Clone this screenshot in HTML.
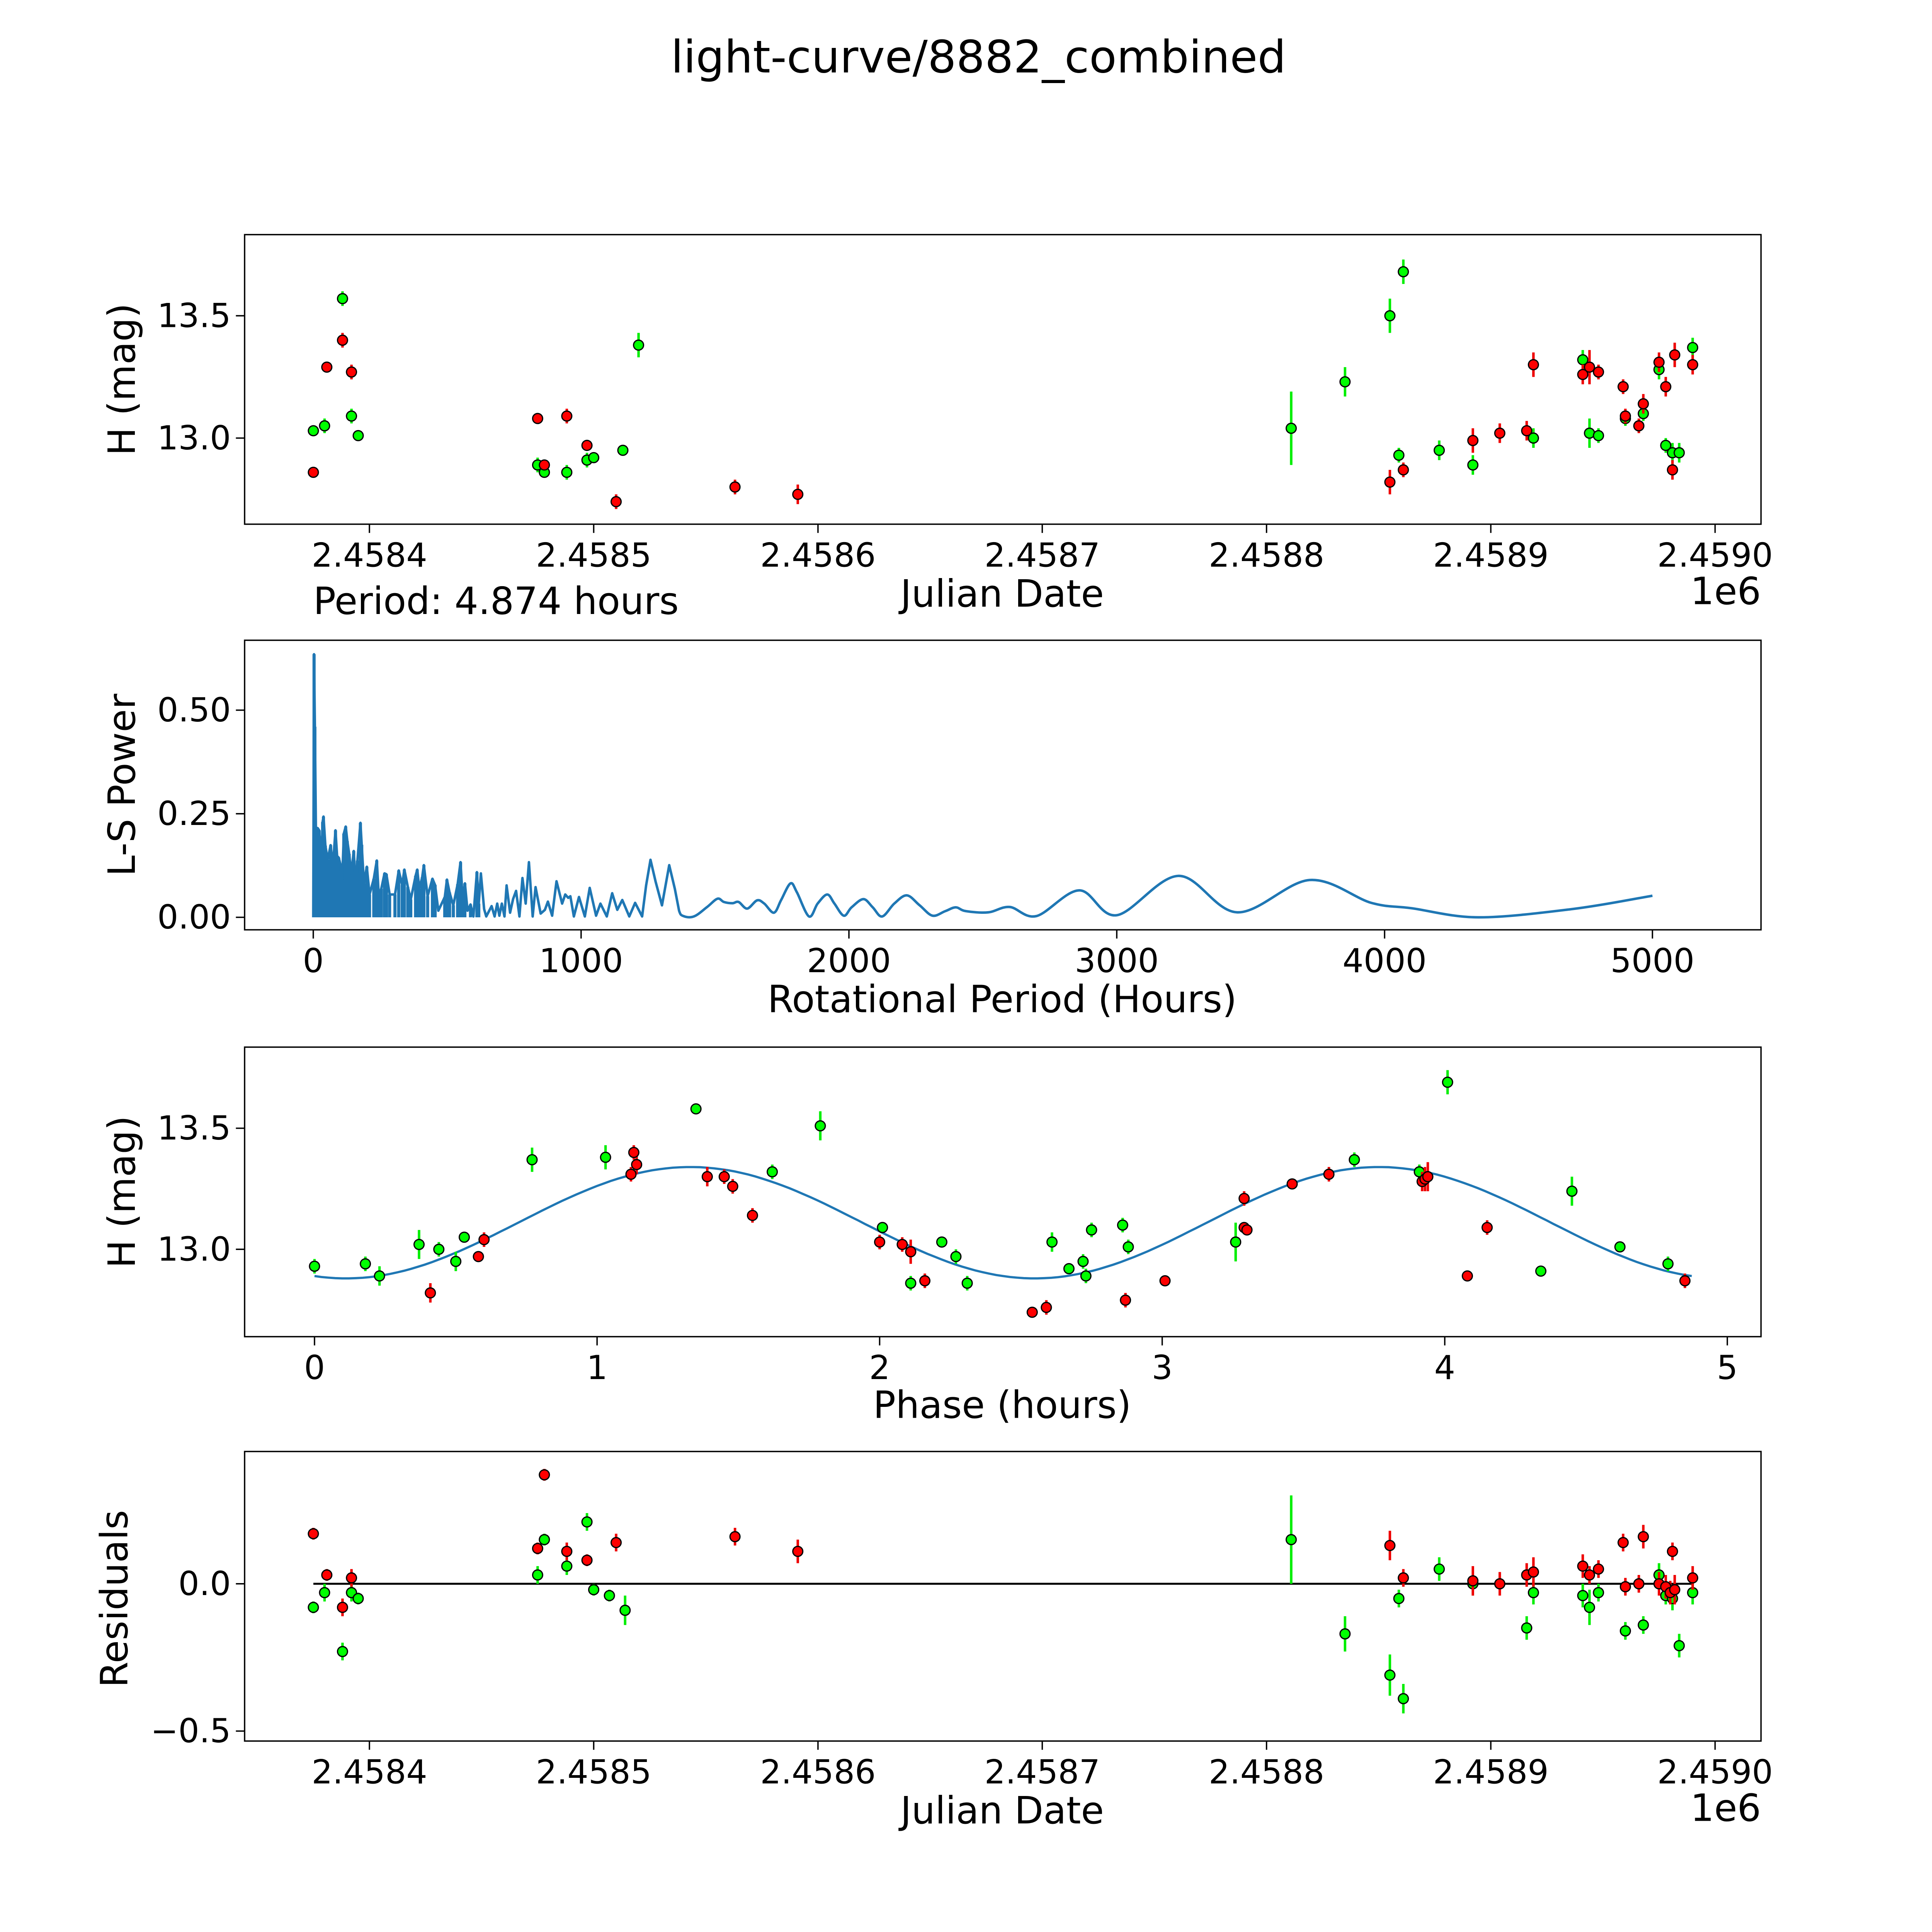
<!DOCTYPE html>
<html><head><meta charset="utf-8"><style>
html,body{margin:0;padding:0;background:#fff;overflow:hidden;width:100vw;height:100vh}
svg{display:block;width:100vw;height:100vh;font-family:"DejaVu Sans","Liberation Sans",sans-serif}
</style></head><body>
<svg id="fig" xmlns="http://www.w3.org/2000/svg" viewBox="0 0 1548 1548" preserveAspectRatio="xMidYMid meet">
<rect width="1548" height="1548" fill="#fff"/>
<text x="784" y="58" font-size="36" text-anchor="middle">light-curve/8882_combined</text>
</svg>
<script>
// ---- Panel 1 data: light curve ----
const lcJdG=[2458375,2458380,2458388,2458392,2458395,2458475,2458478,2458488,2458497,2458500,2458513,2458520,2458811,2458835,2458855,2458859,2458861,2458877,2458892,2458919,2458941,2458944,2458948,2458960,2458968,2458975,2458978,2458981,2458984,2458990];
const lcMagG=[13.03,13.05,13.57,13.09,13.01,12.89,12.86,12.86,12.91,12.92,12.95,13.38,13.04,13.23,13.50,12.93,13.68,12.95,12.89,13.00,13.32,13.02,13.01,13.08,13.10,13.28,12.97,12.94,12.94,13.37];
const lcErrG=[0.02,0.03,0.03,0.03,0.02,0.03,0.02,0.03,0.03,0.02,0.02,0.05,0.15,0.06,0.07,0.03,0.05,0.04,0.04,0.04,0.04,0.06,0.03,0.03,0.03,0.04,0.03,0.04,0.04,0.04];
const lcJdR=[2458375,2458381,2458388,2458392,2458475,2458478,2458488,2458497,2458510,2458563,2458591,2458855,2458861,2458892,2458904,2458916,2458919,2458941,2458944,2458948,2458959,2458960,2458966,2458968,2458975,2458978,2458981,2458982,2458990];
const lcMagR=[12.86,13.29,13.40,13.27,13.08,12.89,13.09,12.97,12.74,12.80,12.77,12.82,12.87,12.99,13.02,13.03,13.30,13.26,13.29,13.27,13.21,13.09,13.05,13.14,13.31,13.21,12.87,13.34,13.30];
const lcErrR=[0.02,0.02,0.03,0.03,0.02,0.02,0.03,0.02,0.03,0.03,0.04,0.05,0.03,0.05,0.04,0.04,0.05,0.04,0.07,0.03,0.03,0.03,0.03,0.04,0.04,0.04,0.04,0.05,0.04];
// ---- Panel 2 data: periodogram ----
const lsPeriod=[0,3,6,10,17,22,30,35,38,45,54,65,73,83,89,95,102,108,114,121,127,134,142,151,159,165,176,181,189,200,210,226,237,245,254,266,273,285,305,319,332,340,353,364,382,388,396,407,413,427,445,455,467,491,499,509,523,539,550,558,566,576,587,598,611,618,626,638,646,666,677,687,695,704,714,722,735,746,757,770,781,793,805,819,830,849,865,876,892,908,929,941,952,960,973,992,1014,1032,1056,1072,1096,1116,1135,1154,1180,1202,1228,1243,1259,1278,1302,1329,1350,1366,1382,1421,1469,1509,1533,1565,1588,1620,1657,1684,1720,1747,1782,1806,1851,1883,1919,1946,1981,2010,2054,2089,2124,2169,2216,2264,2312,2360,2399,2436,2520,2600,2700,2860,3000,3230,3450,3720,3950,4100,4350,4700,5000];
const lsPower=[0,0.635,0.46,0.217,0.215,0.21,0.139,0.23,0.243,0.173,0.139,0.174,0.122,0.21,0.148,0.144,0.126,0.091,0.202,0.219,0.184,0.153,0.104,0.16,0.077,0.137,0.228,0.175,0.082,0.122,0.055,0.093,0.137,0.046,0.069,0.106,0.104,0.055,0.055,0.113,0.078,0.115,0.073,0.043,0.1,0.115,0.069,0.097,0.126,0.051,0.093,0.078,0.016,0.049,0.091,0.06,0.029,0.08,0.133,0.042,0.082,0.016,0.031,0.002,0.109,0.033,0.106,0.02,0.002,0.027,0.002,0.033,0.004,0.033,0.002,0.077,0.011,0.044,0.064,0.002,0.095,0.033,0.133,0.002,0.073,0.009,0.018,0.038,0.004,0.087,0.033,0.055,0.047,0.051,0.002,0.049,0.002,0.071,0.004,0.033,0.002,0.058,0.018,0.042,0.002,0.035,0.002,0.077,0.139,0.086,0.029,0.126,0.069,0.016,0.003,0.002,0.024,0.045,0.037,0.034,0.037,0.021,0.041,0.033,0.011,0.042,0.082,0.06,0.002,0.033,0.055,0.033,0.004,0.024,0.044,0.024,0.002,0.033,0.053,0.029,0.004,0.015,0.024,0.015,0.012,0.025,0.003,0.065,0.005,0.1,0.012,0.09,0.035,0.022,0.0,0.02,0.052];
// ---- Panel 3 data: phased ----
const phG=[0.0,0.18,0.23,0.37,0.44,0.5,0.53,0.77,1.03,1.35,1.62,1.79,2.01,2.11,2.22,2.27,2.31,2.61,2.67,2.72,2.73,2.75,2.86,2.88,3.26,3.68,3.91,4.01,4.34,4.45,4.62,4.79];
const phMagG=[12.93,12.94,12.89,13.02,13.0,12.95,13.05,13.37,13.38,13.58,13.32,13.51,13.09,12.86,13.03,12.97,12.86,13.03,12.92,12.95,12.89,13.08,13.10,13.01,13.03,13.37,13.32,13.69,12.91,13.24,13.01,12.94];
const phErrG=[0.03,0.03,0.04,0.06,0.03,0.04,0.02,0.05,0.05,0.02,0.03,0.06,0.02,0.03,0.02,0.03,0.03,0.04,0.02,0.03,0.03,0.03,0.03,0.03,0.08,0.03,0.03,0.05,0.02,0.06,0.02,0.03];
const phR=[0.41,0.58,0.6,1.12,1.13,1.14,1.39,1.45,1.48,1.55,2.0,2.08,2.11,2.16,2.54,2.59,2.87,3.01,3.29,3.29,3.3,3.46,3.59,3.92,3.93,3.94,4.08,4.15,4.85];
const phMagR=[12.82,12.97,13.04,13.31,13.4,13.35,13.3,13.3,13.26,13.14,13.03,13.02,12.99,12.87,12.74,12.76,12.79,12.87,13.21,13.09,13.08,13.27,13.31,13.28,13.29,13.3,12.89,13.09,12.87];
const phErrR=[0.04,0.02,0.03,0.03,0.03,0.04,0.04,0.03,0.03,0.03,0.03,0.03,0.05,0.03,0.02,0.03,0.03,0.02,0.03,0.02,0.02,0.02,0.03,0.04,0.05,0.06,0.02,0.03,0.03];
const fitParams=[4.874,13.11,0.23,1.33]; // period, mean, amplitude, peak phase
// ---- Panel 4 data: residuals ----
const rsJdG=[2458375,2458380,2458388,2458392,2458395,2458475,2458478,2458488,2458497,2458500,2458507,2458514,2458811,2458835,2458855,2458859,2458861,2458877,2458892,2458916,2458919,2458941,2458944,2458948,2458960,2458968,2458975,2458978,2458981,2458984,2458990];
const rsValG=[-0.08,-0.03,-0.23,-0.03,-0.05,0.03,0.15,0.06,0.21,-0.02,-0.04,-0.09,0.15,-0.17,-0.31,-0.05,-0.39,0.05,0.0,-0.15,-0.03,-0.04,-0.08,-0.03,-0.16,-0.14,0.03,-0.04,-0.05,-0.21,-0.03];
const rsErrG=[0.02,0.03,0.03,0.03,0.02,0.03,0.02,0.03,0.03,0.02,0.02,0.05,0.15,0.06,0.07,0.03,0.05,0.04,0.04,0.04,0.04,0.04,0.06,0.03,0.03,0.03,0.04,0.03,0.04,0.04,0.04];
const rsJdR=[2458375,2458381,2458388,2458392,2458475,2458478,2458488,2458497,2458510,2458563,2458591,2458855,2458861,2458892,2458904,2458916,2458919,2458941,2458944,2458948,2458959,2458960,2458966,2458968,2458975,2458978,2458980,2458981,2458982,2458990];
const rsValR=[0.17,0.03,-0.08,0.02,0.12,0.37,0.11,0.08,0.14,0.16,0.11,0.13,0.02,0.01,0.0,0.03,0.04,0.06,0.03,0.05,0.14,-0.01,0.0,0.16,0.0,-0.01,-0.03,0.11,-0.02,0.02];
const rsErrR=[0.02,0.02,0.03,0.03,0.02,0.02,0.03,0.02,0.03,0.03,0.04,0.05,0.03,0.05,0.04,0.04,0.05,0.04,0.03,0.03,0.03,0.03,0.03,0.04,0.04,0.04,0.04,0.03,0.05,0.04];
// ---- ticks ----
const jdTicks=[2458400,2458500,2458600,2458700,2458800,2458900,2459000];
const jdTickLabels=["2.4584","2.4585","2.4586","2.4587","2.4588","2.4589","2.4590"];
const magTicks=[13.0,13.5], magTickLabels=["13.0","13.5"];
const lsXTicks=[0,1000,2000,3000,4000,5000], lsXLabels=["0","1000","2000","3000","4000","5000"];
const lsYTicks=[0,0.25,0.5], lsYLabels=["0.00","0.25","0.50"];
const phXTicks=[0,1,2,3,4,5], phXLabels=["0","1","2","3","4","5"];
const rsYTicks=[-0.5,0.0], rsYLabels=["\u22120.5","0.0"];

const NS="http://www.w3.org/2000/svg";
const fig=document.getElementById('fig');
function el(tag,attrs,parent,text){const e=document.createElementNS(NS,tag);for(const k in attrs)e.setAttribute(k,attrs[k]);if(text!==undefined)e.textContent=text;(parent||fig).appendChild(e);return e;}
function lin(d0,d1,r0,r1){return v=>r0+(v-d0)*(r1-r0)/(d1-d0);}
const L=196,R=1411;
const xJD=lin(2458400,2458500,296,475.7);
function frame(g,top,bot,name){const r=el('rect',{x:L,y:top,width:R-L,height:bot-top,fill:'none',stroke:'#000','stroke-width':1.1},g);}
function xticks(g,xs,ticks,labels,bot,name){ticks.forEach((t,i)=>{const x=xs(t);el('line',{x1:x,x2:x,y1:bot,y2:bot+7,stroke:'#000','stroke-width':1.1},g);const tx=el('text',{x:x,y:bot+34,'font-size':26.5,'text-anchor':'middle'},g,labels[i]);});}
function yticks(g,ys,ticks,labels,name){ticks.forEach((t,i)=>{const y=ys(t);el('line',{x1:L-7,x2:L,y1:y,y2:y,stroke:'#000','stroke-width':1.1},g);const tx=el('text',{x:L-11,y:y+9,'font-size':26.5,'text-anchor':'end'},g,labels[i]);});}
function ylabel(g,txt,x,y,name){const t=el('text',{x:x,y:y,'font-size':30,'text-anchor':'middle',transform:`rotate(-90 ${x} ${y})`},g,txt);}
function label(g,txt,x,y,anchor,name){const t=el('text',{x:x,y:y,'font-size':30,'text-anchor':anchor},g,txt);}
function points(g,xs,ys,X,Y,E,fill,ecol,name){X.forEach((v,i)=>{const x=xs(v);el('line',{x1:x,x2:x,y1:ys(Y[i]-E[i]),y2:ys(Y[i]+E[i]),stroke:ecol,'stroke-width':2},g);});
 X.forEach((v,i)=>{const c=el('circle',{cx:xs(v),cy:ys(Y[i]),r:4,fill:fill,stroke:'#000','stroke-width':1},g);});}

// Panel 1
{const g=el('g',{});
const ys=lin(13.0,13.5,351,253);
points(g,xJD,ys,lcJdG,lcMagG,lcErrG,'#00ff00','#00ee00','green-point');
points(g,xJD,ys,lcJdR,lcMagR,lcErrR,'#ff0000','#ee0000','red-point');
frame(g,188,420,'light-curve-axes');
xticks(g,xJD,jdTicks,jdTickLabels,420,'jd-x');
yticks(g,ys,magTicks,magTickLabels,'mag-y');
label(g,'Julian Date',803,486,'middle','x-axis-title-julian-date');
label(g,'1e6',1411,484,'end','x-axis-offset-1e6');
ylabel(g,'H (mag)',108,304,'y-axis-title-mag');
label(g,'Period: 4.874 hours',251,492,'start','period-annotation');}

// Panel 2
{const g=el('g',{});
const xs=lin(0,1000,251,465.6), ys=lin(0,0.25,735,652);
lsPeriod.forEach((p,i)=>{if(p<620&&lsPower[i]>0.02){el('line',{x1:xs(p),x2:xs(p),y1:ys(0),y2:ys(lsPower[i]),stroke:'#1f77b4','stroke-width':2.5},g);}});
const P=lsPeriod.map((p,i)=>[xs(p),ys(lsPower[i])]);
let d='M'+P[0][0].toFixed(1)+' '+P[0][1].toFixed(1);
for(let i=1;i<P.length;i++){
  if(lsPeriod[i]<1380){d+=' L'+P[i][0].toFixed(1)+' '+P[i][1].toFixed(1);}
  else{const p0=P[i-2]||P[i-1],p1=P[i-1],p2=P[i],p3=P[i+1]||P[i];
   const c1=[p1[0]+(p2[0]-p0[0])/6,p1[1]+(p2[1]-p0[1])/6],c2=[p2[0]-(p3[0]-p1[0])/6,p2[1]-(p3[1]-p1[1])/6];
   d+=` C${c1[0].toFixed(1)} ${c1[1].toFixed(1)} ${c2[0].toFixed(1)} ${c2[1].toFixed(1)} ${p2[0].toFixed(1)} ${p2[1].toFixed(1)}`;}
}
const pth=el('path',{d:d,fill:'none',stroke:'#1f77b4','stroke-width':2,'stroke-linejoin':'round'},g);

frame(g,513,745,'periodogram-axes');
xticks(g,xs,lsXTicks,lsXLabels,745,'period-x');
yticks(g,ys,lsYTicks,lsYLabels,'power-y');
label(g,'Rotational Period (Hours)',803,811,'middle','x-axis-title-period');
ylabel(g,'L-S Power',108,629,'y-axis-title-power');}

// Panel 3
{const g=el('g',{});
const xs=lin(0,1,252,478.4), ys=lin(13.0,13.5,1001,904);
const [P,m0,A,pk]=fitParams;let d='';
for(let i=0;i<=200;i++){const t=P*i/200;const v=m0+A*Math.cos(4*Math.PI*(t-pk)/P);d+=(i?'L':'M')+xs(t).toFixed(1)+' '+ys(v).toFixed(1)+' ';}
const fl=el('path',{d:d,fill:'none',stroke:'#1f77b4','stroke-width':1.8},g);
points(g,xs,ys,phG,phMagG,phErrG,'#00ff00','#00ee00','green-phase-point');
points(g,xs,ys,phR,phMagR,phErrR,'#ff0000','#ee0000','red-phase-point');
frame(g,839,1071,'phase-axes');
xticks(g,xs,phXTicks,phXLabels,1071,'phase-x');
yticks(g,ys,magTicks,magTickLabels,'phase-mag-y');
label(g,'Phase (hours)',803,1136,'middle','x-axis-title-phase');
ylabel(g,'H (mag)',108,955,'y-axis-title-phase-mag');}

// Panel 4
{const g=el('g',{});
const ys=lin(0,-0.5,1269,1387);
const zl=el('line',{x1:xJD(2458375),x2:xJD(2458990),y1:ys(0),y2:ys(0),stroke:'#000','stroke-width':1.6},g);
points(g,xJD,ys,rsJdG,rsValG,rsErrG,'#00ff00','#00ee00','green-residual-point');
points(g,xJD,ys,rsJdR,rsValR,rsErrR,'#ff0000','#ee0000','red-residual-point');
frame(g,1163,1395,'residuals-axes');
xticks(g,xJD,jdTicks,jdTickLabels,1395,'res-jd-x');
yticks(g,ys,rsYTicks,rsYLabels,'res-y');
label(g,'Julian Date',803,1461,'middle','x-axis-title-res-julian-date');
label(g,'1e6',1411,1459,'end','x-axis-offset-res-1e6');
ylabel(g,'Residuals',102,1281,'y-axis-title-residuals');}
</script>
</body></html>
